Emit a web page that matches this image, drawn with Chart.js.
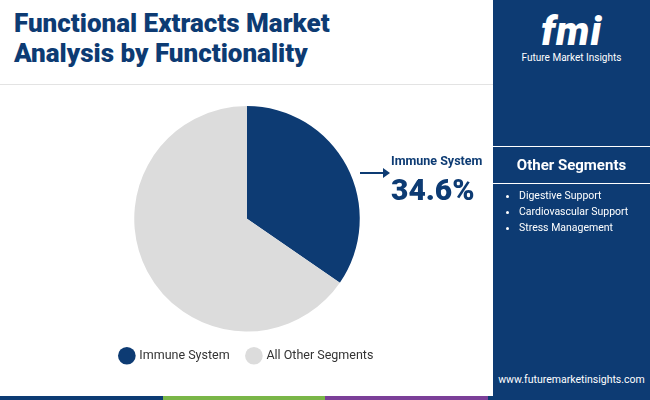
<!DOCTYPE html>
<html><head><meta charset="utf-8">
<script src="https://cdn.jsdelivr.net/npm/chart.js@4"></script>
<style>
body{margin:0;width:650px;height:400px;overflow:hidden;background:#fff;font-family:Roboto,sans-serif;position:relative}
#title{position:absolute;left:14px;top:8px;font-size:26px;font-weight:900;color:#0d3b73;line-height:30px}
#rule{position:absolute;left:0;top:84px;width:493px;height:1px;background:#e3e3e3}
#side{position:absolute;left:493px;top:0;width:157px;height:396px;background:#0d3b73;color:#fff}
#logo{position:absolute;left:0;top:0;width:157px;height:76px;text-align:center}
#logo .big{font-size:40px;font-weight:900;font-style:italic;letter-spacing:1px;margin-top:12px;line-height:40px}
#logo .small{font-size:10px}
#segbox{position:absolute;left:0;top:146px;width:157px;height:36px;border-top:1px solid #fff;border-bottom:1px solid #fff;font-weight:700;font-size:15px;text-align:center;line-height:36px}
#side ul{position:absolute;left:0;top:188px;margin:0;padding-left:26px;font-size:10.5px;line-height:16px}
#url{position:absolute;left:0;bottom:10px;width:157px;text-align:center;font-size:10.5px}
#strip{position:absolute;left:0;top:396px;width:650px;height:4px;display:flex}
#wrap{position:absolute;left:40px;top:94px;width:414px;height:278px}
#lab{position:absolute;left:391px;top:153px;color:#0d3b73}
#lab .n{font-size:12.5px;font-weight:700}
#lab .v{font-size:30px;font-weight:900;margin-top:4px}
#arrow{position:absolute;left:360px;top:172px;width:24px;height:2px;background:#0d3b73}
#arrow:after{content:"";position:absolute;right:-6px;top:-4px;border-left:7px solid #0d3b73;border-top:5px solid transparent;border-bottom:5px solid transparent}
</style></head><body>
<div id="title">Functional Extracts Market<br>Analysis by Functionality</div>
<div id="rule"></div>
<div id="wrap"><canvas id="c"></canvas></div>
<div id="arrow"></div>
<div id="lab"><div class="n">Immune System</div><div class="v">34.6%</div></div>
<div id="side">
<div id="logo"><div class="big">fmi</div><div class="small">Future Market Insights</div></div>
<div id="segbox">Other Segments</div>
<ul><li>Digestive Support</li><li>Cardiovascular Support</li><li>Stress Management</li></ul>
<div id="url">www.futuremarketinsights.com</div>
</div>
<div id="strip"><div style="flex:1;background:#0d3b73"></div><div style="flex:1;background:#7ab648"></div><div style="flex:1;background:#7b3f98"></div><div style="flex:1;background:#0d3b73"></div></div>
<script>
var segments = ['Immune System', 'All Other Segments'];
var shares = [34.6, 65.4];
var colors = ['#0d3b73', '#dcdcdc'];

new Chart(document.getElementById('c'), {
    type: 'pie',
    data: {
        labels: segments,
        datasets: [{data: shares, backgroundColor: colors, borderWidth: 0}]
    },
    options: {
        responsive: true,
        maintainAspectRatio: false,
        animation: false,
        layout: {padding: {top: 12, bottom: 0}},
        plugins: {
            tooltip: {enabled: false},
            legend: {
                position: 'bottom',
                labels: {
                    usePointStyle: true,
                    pointStyle: 'circle',
                    boxWidth: 18,
                    boxHeight: 18,
                    padding: 18,
                    color: '#333',
                    font: {family: 'Roboto', size: 12.5}
                }
            }
        }
    }
});
</script>
</body></html>
